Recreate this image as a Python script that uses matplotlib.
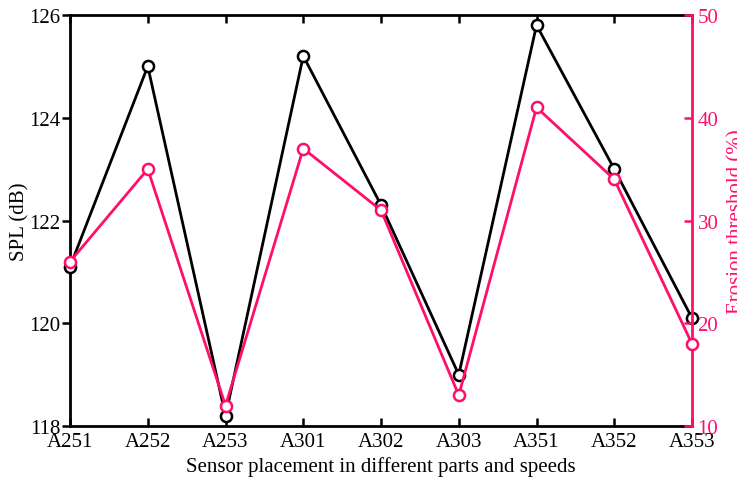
import matplotlib
matplotlib.use('Agg')
import matplotlib.pyplot as plt

plt.rcParams['font.family'] = ['Liberation Serif', 'DejaVu Serif']

# Valores por sensor
sensores = ['A251', 'A252', 'A253', 'A301', 'A302', 'A303', 'A351', 'A352', 'A353']
spl = [121.1, 125.0, 118.2, 125.2, 122.3, 119.0, 125.8, 123.0, 120.1]
erosao = [26, 35, 12, 37, 31, 13, 41, 34, 18]

rosa = '#ff0f6a'
fs = 15

fig = plt.figure(figsize=(7.37, 4.81), dpi=100)
ax = fig.add_axes([0.095, 0.112, 0.844, 0.855])
ax2 = ax.twinx()

x = list(range(len(sensores)))
ax.plot(x, spl, color='black', linewidth=2, marker='o', markersize=8,
        markerfacecolor='white', markeredgewidth=1.8, zorder=3, clip_on=False)
ax2.plot(x, erosao, color=rosa, linewidth=2, marker='o', markersize=8,
         markerfacecolor='white', markeredgewidth=1.8, zorder=3, clip_on=False)

ax.set_xlim(0, len(sensores) - 1)
ax.set_ylim(118, 126)
ax2.set_ylim(10, 50)
ax.set_xticks(x)
ax.set_xticklabels(sensores, fontsize=fs)
ax.set_yticks([118, 120, 122, 124, 126])
ax2.set_yticks([10, 20, 30, 40, 50])

# Eixos e marcações
ax.tick_params(axis='x', direction='in', length=6, width=1.8, top=True, pad=4)
ax.tick_params(axis='y', direction='out', length=6, width=1.8, labelsize=fs, pad=1)
ax2.tick_params(axis='y', direction='in', length=6, width=1.8, colors=rosa,
                labelsize=fs, pad=4)

for lado in ['left', 'top', 'bottom']:
    ax.spines[lado].set_linewidth(2)
ax2.spines['right'].set_linewidth(2)
ax2.spines['right'].set_color(rosa)
for lado in ['left', 'top', 'bottom']:
    ax2.spines[lado].set_visible(False)
ax.spines['right'].set_visible(False)

# Rótulos
ax.set_ylabel('SPL (dB)', fontsize=fs, labelpad=0)
ax.set_xlabel('Sensor placement in different parts and speeds', fontsize=fs, labelpad=4)
ax2.set_ylabel('Erosion threshold (%)', fontsize=fs, color=rosa, labelpad=6)

fig.savefig('out.png', dpi=100)
